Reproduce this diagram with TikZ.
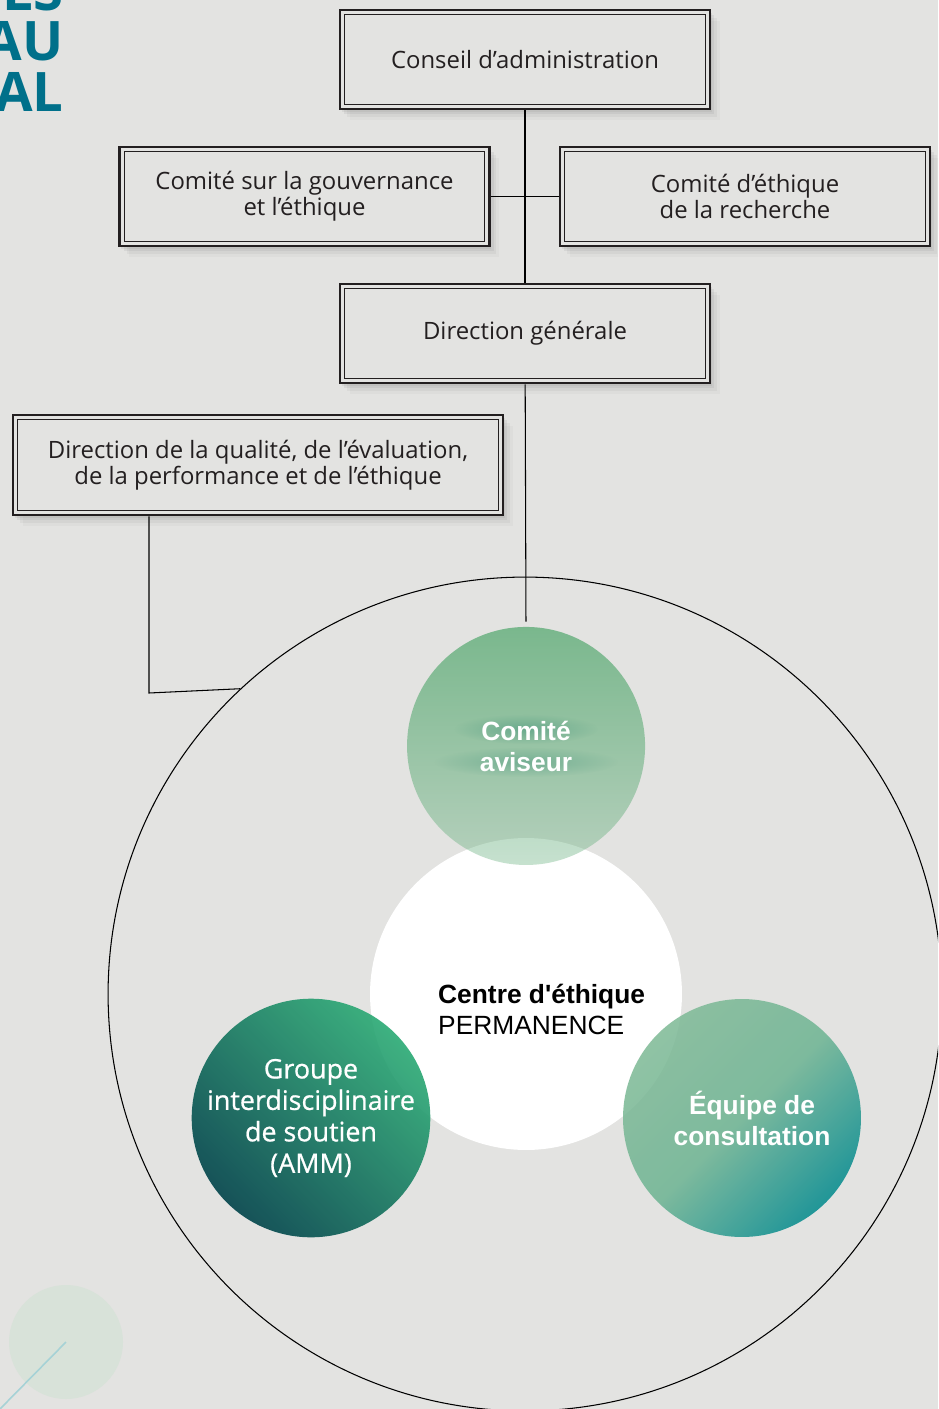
\documentclass[tikz,border=0pt]{standalone}
\usepackage{fontspec}
\setmainfont{Open Sans}
\newfontfamily\arialfont{Liberation Sans}
\newfontfamily\groupefont{Open Sans}[FakeBold=0.7]
\usetikzlibrary{shadows, fadings, positioning}

\definecolor{fond}{HTML}{E3E3E1}
\definecolor{encre}{HTML}{231F20}
\definecolor{titre}{HTML}{00708A}
\definecolor{aviseurvert}{HTML}{6CB282}
\definecolor{halo}{HTML}{4E9A80}
\definecolor{groupesombre}{HTML}{00434A}
\definecolor{groupeclair}{HTML}{2AAA74}
\definecolor{equipeclair}{HTML}{7DB995}
\definecolor{equipemilieu}{HTML}{6CB392}
\definecolor{equipesombre}{HTML}{00898C}
\definecolor{decor}{HTML}{D8E2D9}
\definecolor{decorligne}{HTML}{A6D2D6}

\tikzfading[name=fondu aviseur, top color=transparent!12, bottom color=transparent!62]
\tikzfading[name=halo doux, inner color=transparent!0, outer color=transparent!100]

\tikzstyle{organe} = [rectangle, minimum width=7.4cm, minimum height=1.98cm, text centered, align=center, draw=encre, line width=1.5pt, fill=fond, text=encre, font=\fontsize{13.6}{14.8}\selectfont,
    drop shadow={shadow xshift=1pt, shadow yshift=-1.5pt, opacity=.13},
    drop shadow={shadow xshift=2.5pt, shadow yshift=-3pt, opacity=.12},
    drop shadow={shadow xshift=4pt, shadow yshift=-4.5pt, opacity=.09},
    drop shadow={shadow xshift=5.5pt, shadow yshift=-6.5pt, opacity=.06}]
\tikzstyle{trait} = [line width=1pt, draw=black]
\tikzstyle{traitfin} = [line width=0.6pt, draw=black]
\tikzstyle{bulle} = [circle, minimum size=4.76cm, inner sep=0pt, align=center, text=white]
\tikzstyle{gras} = [font=\arialfont\bfseries\fontsize{15}{17.6}\selectfont]

\begin{document}
\begin{tikzpicture}[x=0.02cm, y=-0.02cm, node distance=5.48cm]
        \useasboundingbox (0,0) rectangle (938,1409);
        \clip (0,0) rectangle (938,1409);
        \fill[fond] (0,0) rectangle (938,1409);

        % titre coupe a gauche
        \node (titre) [anchor=south east, inner sep=0pt, align=right, text=titre, font=\bfseries\fontsize{31}{28.9}\selectfont] at (64,112) {ELS\\AU\\AL};

        % decor en bas
        \fill[decor] (66,1342) circle (57);
        \draw[decorligne, line width=0.9pt] (66,1342) -- (-2,1411);

        \node (conseil) [organe] at (525,59.5) {Conseil d’administration};
        \node (direction) [organe, below of=conseil] {Direction générale};
        \node (gouvernance) [organe] at (304.5,196.5) {Comité sur la gouvernance\\et l’éthique};
        \node (recherche) [organe] at (745,196.5) {Comité d’éthique\\de la recherche};
        \node (qualite) [organe, minimum width=9.8cm, minimum height=2cm] at (258,465) {Direction de la qualité, de l’évaluation,\\de la performance et de l’éthique};

        \foreach \n in {conseil, gouvernance, recherche, direction, qualite}
            \draw[encre, line width=0.8pt] ([shift={(6,6)}]\n.north west) rectangle ([shift={(-6,-6)}]\n.south east);

        \draw [trait] (conseil) -- (direction);
        \draw [trait] (gouvernance) -- (recherche);

        % cercles
        \node (enceinte) [circle, draw=black, line width=0.6pt, minimum size=16.68cm, inner sep=0pt] at (525,994) {};
        \node (centre) [circle, fill=white, minimum size=6.24cm, inner sep=0pt] at (526,994) {};
        \node (centretexte) [anchor=west, align=left, font=\arialfont\fontsize{15}{17.6}\selectfont, text=black] at (432,1009) {\textbf{Centre d\textquotesingle éthique}\\PERMANENCE};

        \node (aviseur) [bulle, fill=aviseurvert, path fading=fondu aviseur] at (526,746) {};
        \begin{scope}
            \clip (526,746) circle (119);
            \fill[halo, path fading=halo doux, fill opacity=0.6] (526,729) ellipse (72 and 15);
            \fill[halo, path fading=halo doux, fill opacity=0.5] (526,762) ellipse (92 and 15);
        \end{scope}
        \node (aviseurtexte) [gras, align=center, text=white] at (aviseur) {Comité\\aviseur};

        \node (groupe) [bulle, top color=groupeclair, bottom color=groupesombre, shading angle=-45, fill opacity=0.9, text opacity=1, font=\groupefont\fontsize{15.3}{17.9}\selectfont] at (311,1118) {Groupe\\interdisciplinaire\\de soutien\\(AMM)};
        \node (equipe) [bulle, gras, top color=equipeclair, bottom color=equipesombre, middle color=equipemilieu, shading angle=45, fill opacity=0.85, text opacity=1] at (742,1118) {\hspace*{0.4cm}Équipe de\\\hspace*{0.4cm}consultation};

        \coordinate (coude) at (149,693);
        \draw [traitfin] (qualite.south -| coude) -- (coude) -- (enceinte.133.8);
        \draw [traitfin, shorten >=0.1cm] (direction) -- (aviseur.north);
    \end{tikzpicture}
\end{document}
